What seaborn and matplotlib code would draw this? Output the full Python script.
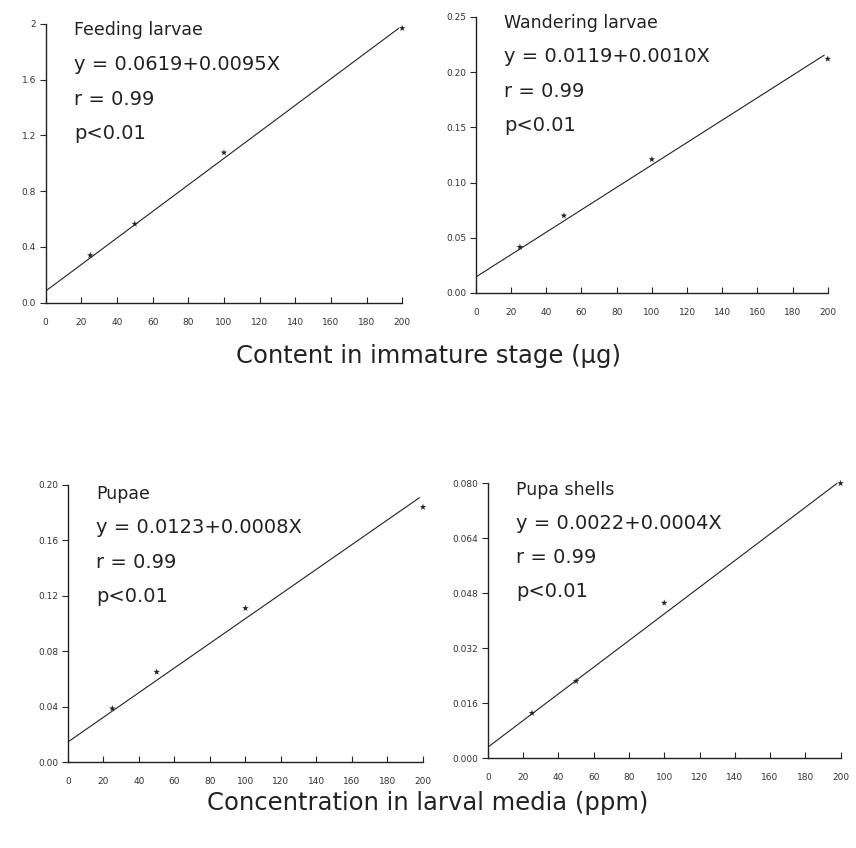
import numpy as np
import pandas as pd
import matplotlib
matplotlib.use("Agg")
import matplotlib.pyplot as plt
import seaborn as sns

# dose levels (ppm)
doses = [25, 50, 100, 200]

feeding = [0.34, 0.565, 1.077, 1.97]
wandering = [0.0416, 0.070, 0.121, 0.212]
pupae = [0.0386, 0.065, 0.111, 0.184]
shells = [0.0131, 0.0224, 0.0452, 0.080]

# fitted line end points (x = 0 and x = right end)
fit_x = [0, 198]
feeding_fit = [0.084, 1.969]
wandering_fit = [0.0145, 0.2154]
pupae_fit = [0.0145, 0.1908]
shells_fit = [0.0032, 0.080]

titles = ["Feeding larvae", "Wandering larvae", "Pupae", "Pupa shells"]
equations = ["y = 0.0619+0.0095X", "y = 0.0119+0.0010X",
             "y = 0.0123+0.0008X", "y = 0.0022+0.0004X"]

yticks = [[0.0, 0.4, 0.8, 1.2, 1.6, 2.0],
          [0.00, 0.05, 0.10, 0.15, 0.20, 0.25],
          [0.00, 0.04, 0.08, 0.12, 0.16, 0.20],
          [0.000, 0.016, 0.032, 0.048, 0.064, 0.080]]
ytick_labels = [["0.0", "0.4", "0.8", "1.2", "1.6", "2"],
                ["0.00", "0.05", "0.10", "0.15", "0.20", "0.25"],
                ["0.00", "0.04", "0.08", "0.12", "0.16", "0.20"],
                ["0.000", "0.016", "0.032", "0.048", "0.064", "0.080"]]
xticks = list(range(0, 201, 20))

sns.set_style("ticks")
plt.rcParams['font.family'] = ['DejaVu Sans']

fig = plt.figure(figsize=(8.56, 8.48), dpi=100)
positions = [[0.0534, 0.643, 0.4165, 0.3287],
             [0.556, 0.6545, 0.411, 0.3255],
             [0.0794, 0.1014, 0.4147, 0.3267],
             [0.570, 0.106, 0.412, 0.324]]
# vertical position (axes fraction) of the title line in each panel
text_top = [1.01, 1.01, 1.0, 1.01]

series = [feeding, wandering, pupae, shells]
fits = [feeding_fit, wandering_fit, pupae_fit, shells_fit]

for i in range(4):
    ax = fig.add_axes(positions[i])
    df = pd.DataFrame({"x": doses, "y": series[i]})
    line = pd.DataFrame({"x": fit_x, "y": fits[i]})
    sns.lineplot(data=line, x="x", y="y", ax=ax, color="#222222", lw=0.8)
    sns.scatterplot(data=df, x="x", y="y", ax=ax, marker="*", s=25,
                    color="#222222", edgecolor="none")
    ax.set_xlim(0, 200)
    ax.set_ylim(yticks[i][0], yticks[i][-1])
    ax.set_xticks(xticks)
    ax.set_xticklabels([str(t) for t in xticks], fontsize=6.5, color="#333333")
    ax.set_yticks(yticks[i])
    ax.set_yticklabels(ytick_labels[i], fontsize=6.5, color="#333333")
    ax.tick_params(axis="x", direction="in", length=4, width=0.8, pad=11)
    ax.tick_params(axis="y", direction="out", length=4, width=0.8, pad=3)
    ax.set_xlabel("")
    ax.set_ylabel("")
    sns.despine(ax=ax)
    for s in ["left", "bottom"]:
        ax.spines[s].set_linewidth(1.0)
        ax.spines[s].set_color("#222222")
    for c in ax.collections:
        c.set_clip_on(False)
    # annotation block
    t0 = text_top[i]
    ax.text(0.08, t0, titles[i], transform=ax.transAxes, fontsize=12.5,
            color="#222222", va="top")
    ax.text(0.08, t0 - 0.12, equations[i], transform=ax.transAxes,
            fontsize=14, color="#222222", va="top")
    ax.text(0.08, t0 - 0.245, "r = 0.99", transform=ax.transAxes,
            fontsize=14, color="#222222", va="top")
    ax.text(0.08, t0 - 0.37, "p<0.01", transform=ax.transAxes,
            fontsize=14, color="#222222", va="top")

fig.text(0.5, 0.58, "Content in immature stage (\u03bcg)", ha="center",
         va="center", fontsize=17.5, color="#222222")
fig.text(0.5, 0.053, "Concentration in larval media (ppm)", ha="center",
         va="center", fontsize=17.5, color="#222222")

fig.savefig("out.png", dpi=100, facecolor="white")
